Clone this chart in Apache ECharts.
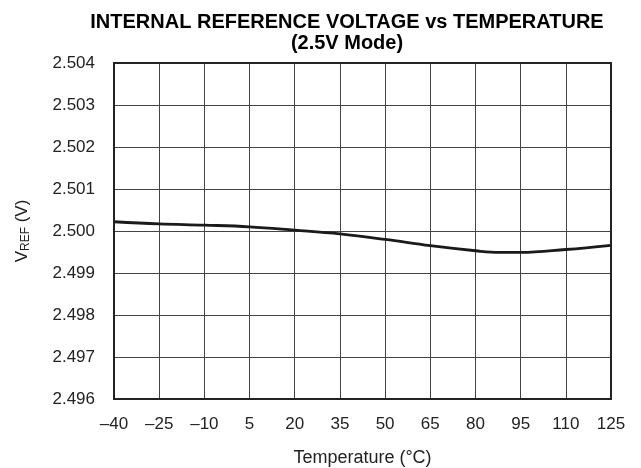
<!DOCTYPE html>
<html>
<head>
<meta charset="utf-8">
<script src="https://cdn.jsdelivr.net/npm/echarts@6/dist/echarts.min.js"></script>
<style>
  html, body { margin: 0; padding: 0; background: #fff; }
  #chart { width: 641px; height: 468px; }
</style>
</head>
<body>
<div id="chart"></div>
<script>
// temperature (°C) and reference voltage (V)
const tempC = [-40, -25, -10, 5, 20, 35, 50, 65, 80, 88, 95, 110, 125];
const vref = [2.50022, 2.50017, 2.50014, 2.5001, 2.50002, 2.49993, 2.4998, 2.49965, 2.49953, 2.49949, 2.49949, 2.49956, 2.49966];

const font = "'Liberation Sans', Arial, sans-serif";
const ink = "#222";

const chart = echarts.init(document.getElementById("chart"));
chart.setOption({
  animation: false,
  backgroundColor: "#fff",
  title: {
    text: "INTERNAL REFERENCE VOLTAGE vs TEMPERATURE\n(2.5V Mode)",
    left: 342,
    top: 7,
    textAlign: "center",
    textStyle: {
      fontFamily: font,
      fontWeight: "bold",
      fontSize: 20,
      lineHeight: 21,
      color: "#000",
    },
  },
  grid: {
    left: 114,
    right: 30,
    top: 63,
    bottom: 69,
    outerBoundsMode: "none",
  },
  xAxis: {
    type: "value",
    min: -40,
    max: 125,
    interval: 15,
    name: "Temperature (°C)",
    nameLocation: "middle",
    nameGap: 50,
    nameTextStyle: { fontFamily: font, fontSize: 18, color: ink },
    axisLine: { show: true, onZero: false, lineStyle: { color: ink, width: 2 } },
    axisTick: { show: false },
    axisLabel: {
      fontFamily: font,
      fontSize: 17,
      color: ink,
      margin: 17,
      formatter: (v) => (v < 0 ? "–" + Math.abs(v) : String(v)),
    },
    splitLine: { show: true, lineStyle: { color: "#444", width: 1 } },
  },
  yAxis: {
    type: "value",
    min: 2.496,
    max: 2.504,
    interval: 0.001,
    name: "{v|V}{s|REF}{v| (V)}",
    nameLocation: "middle",
    nameGap: 82,
    nameRotate: 90,
    nameTextStyle: {
      rich: {
        v: { fontFamily: font, fontSize: 17, color: ink },
        s: { fontFamily: font, fontSize: 12, color: ink, verticalAlign: "bottom", padding: [7, 0, 0, 0] },
      },
    },
    axisLine: { show: true, onZero: false, lineStyle: { color: ink, width: 2 } },
    axisTick: { show: false },
    axisLabel: {
      fontFamily: font,
      fontSize: 17,
      color: ink,
      margin: 19,
      formatter: (v) => v.toFixed(3),
    },
    splitLine: { show: true, lineStyle: { color: "#444", width: 1 } },
  },
  series: [
    {
      type: "line",
      data: tempC.map((t, i) => [t, vref[i]]),
      smooth: 0.4,
      showSymbol: false,
      lineStyle: { color: "#1a1a1a", width: 2.8 },
    },
  ],
  graphic: [
    {
      type: "rect",
      shape: { x: 114, y: 63, width: 497, height: 336 },
      style: { fill: "none", stroke: ink, lineWidth: 2 },
      z: 100,
    },
  ],
});
</script>
</body>
</html>
